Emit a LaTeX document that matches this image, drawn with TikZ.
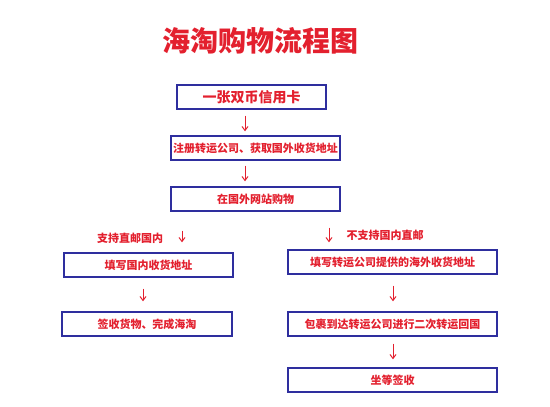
\documentclass[tikz,border=0pt]{standalone}
\usepackage{fontspec}
\setmainfont{Noto Sans CJK SC}
\usetikzlibrary{arrows.meta}

\definecolor{boxblue}{HTML}{2E2E9E}
\definecolor{txtred}{HTML}{E3202E}

\begin{document}
\begin{tikzpicture}[x=1pt, y=-1pt,
    box/.style={draw=boxblue, line width=1.4pt, fill=white, text=txtred, font=\bfseries\fontsize{11}{13}\selectfont, minimum height=24pt, inner sep=0pt},
    arr/.style={draw=txtred, line width=1pt, -{Straight Barb[length=4pt, width=6pt]}},
    note/.style={text=txtred, font=\bfseries\fontsize{11}{13}\selectfont, inner sep=0pt}]
    \useasboundingbox (0,0) rectangle (550,407);

    \node (title) at (260.5,41) [text=txtred, font=\bfseries\fontsize{28}{32}\selectfont] {海淘购物流程图};

    \node (b1) at (251.5,97) [box, minimum width=149pt, font=\bfseries\fontsize{14}{16}\selectfont] {一张双币信用卡};
    \node (b2) at (255.5,148) [box, minimum width=169pt] {注册转运公司、获取国外收货地址};
    \draw[arr, shorten <=6pt, shorten >=4pt] (b1.south -| 245,0) -- (b2.north -| 245,0);

    \node (b3) at (255.5,199) [box, minimum width=169pt] {在国外网站购物};
    \draw[arr, shorten <=5pt, shorten >=5pt] (b2.south -| 245,0) -- (b3.north -| 245,0);

    % left branch
    \node (l1) at (148.5,265) [box, minimum width=169pt] {填写国内收货地址};
    \node (ln) at (130,238) [note] {支持直邮国内};
    \draw[arr, shorten <=19pt, shorten >=10pt] (b3.south -| 182,0) -- (l1.north -| 182,0);

    \node (l2) at (147,324) [box, minimum width=170pt] {签收货物、完成海淘};
    \draw[arr, shorten <=11pt, shorten >=10pt] (l1.south -| 143,0) -- (l2.north -| 143,0);

    % right branch
    \node (r1) at (392.5,262) [box, minimum width=209pt] {填写转运公司提供的海外收货地址};
    \node (rn) at (385,235) [note] {不支持国内直邮};
    \draw[arr, shorten <=16pt, shorten >=7pt] (b3.south -| 329,0) -- (r1.north -| 329,0);

    \node (r2) at (392.5,324) [box, minimum width=209pt] {包裹到达转运公司进行二次转运回国};
    \draw[arr, shorten <=11pt, shorten >=10pt] (r1.south -| 393,0) -- (r2.north -| 393,0);

    \node (r3) at (392.5,380) [box, minimum width=209pt] {坐等签收};
    \draw[arr, shorten <=7pt, shorten >=8pt] (r2.south -| 393,0) -- (r3.north -| 393,0);
\end{tikzpicture}
\end{document}
